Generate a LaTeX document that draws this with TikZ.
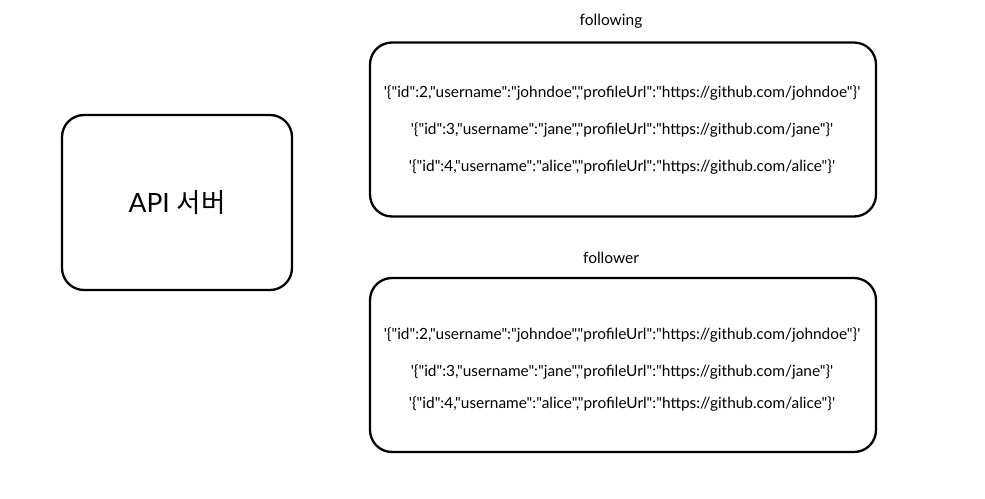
\documentclass[tikz,border=0pt]{standalone}
\usepackage{fontspec}
\setmainfont{Lato}[Ligatures=TeXOff]
\newfontfamily\krfont{Noto Sans CJK KR}
\usetikzlibrary{positioning}

\tikzset{
  box/.style={draw,line width=2.3pt,rounded corners=22pt,inner sep=0pt},
  rowtext/.style={font=\fontsize{15.4}{17}\selectfont,inner sep=0pt},
  caption/.style={font=\fontsize{15.5}{17}\selectfont,inner sep=0pt}
}

\begin{document}
\begin{tikzpicture}[x=1pt,y=-1pt]
\useasboundingbox (0,0) rectangle (985,498);
% server
\node[box,minimum width=230pt,minimum height=175pt] (server) at (177,202.5) {};
\node[font=\fontsize{26.5}{30}\selectfont] (servername) at (server) {API {\krfont 서버}};
% following table
\node[box,minimum width=506pt,minimum height=174pt] (following) at (623,129.5) {};
\node[caption] (followinglabel) at (611,21) {following};
\node[rowtext] (fa) at (622,93) {'\{"id":2,"username":"johndoe","profileUrl":"https://github.com/johndoe"\}'};
\node[rowtext] (fb) at (622,130) {'\{"id":3,"username":"jane","profileUrl":"https://github.com/jane"\}'};
\node[rowtext] (fc) at (622,167) {'\{"id":4,"username":"alice","profileUrl":"https://github.com/alice"\}'};
% follower table
\node[box,minimum width=506pt,minimum height=174pt] (follower) at (623,365) {};
\node[caption] (followerlabel) at (611,258) {follower};
\node[rowtext] (ra) at (622,335) {'\{"id":2,"username":"johndoe","profileUrl":"https://github.com/johndoe"\}'};
\node[rowtext] (rb) at (622,372) {'\{"id":3,"username":"jane","profileUrl":"https://github.com/jane"\}'};
\node[rowtext] (rc) at (622,404) {'\{"id":4,"username":"alice","profileUrl":"https://github.com/alice"\}'};
\end{tikzpicture}
\end{document}
